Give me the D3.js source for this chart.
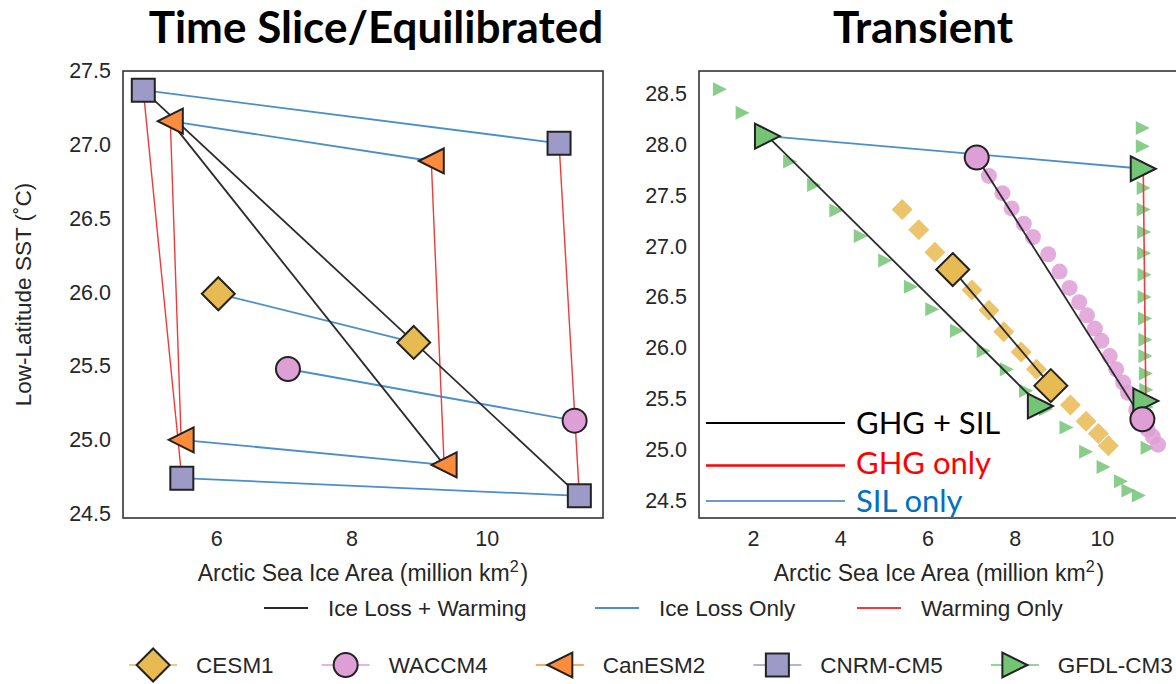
<!DOCTYPE html>
<html lang="en">
<head>
<meta charset="UTF-8" />
<title>Arctic Sea Ice Area vs Low-Latitude SST</title>
<script src="https://cdn.jsdelivr.net/npm/d3@7"></script>
<style>
  body { margin: 0; background: #fff; }
  svg { display: block; font-family: "Liberation Sans", Arial, sans-serif; }
</style>
</head>
<body>
<svg id="chart" width="1176" height="684"></svg>
<script>
// ---- data ----
const models = ["CESM1", "WACCM4", "CanESM2", "CNRM-CM5", "GFDL-CM3"];
const modelColors = ["#e7ba52", "#de9ed6", "#fd8d3c", "#9e9ac8", "#74c476"];

// time slice / equilibrated runs: sea ice area (million km2) and SST (C)
// order follows eqModels, null where the run does not exist
const eqModels = ["CESM1", "WACCM4", "CanESM2", "CNRM-CM5"];
const eqCtrlIce = [8.92, 11.30, 9.37, 11.37];
const eqCtrlSst = [25.66, 25.13, 24.83, 24.62];
const eqIceLossIce = [6.03, 7.06, 5.48, 5.49];
const eqIceLossSst = [25.99, 25.48, 25.00, 24.74];
const eqWarmIce = [null, null, 9.18, 11.07];
const eqWarmSst = [null, null, 26.89, 27.01];
const eqBothIce = [null, null, 5.32, 4.92];
const eqBothSst = [null, null, 27.16, 27.37];

// transient runs: start / end means
const trModels = ["CESM1", "WACCM4", "GFDL-CM3"];
const trStartIce = [8.83, 10.93, 8.59];
const trStartSst = [25.63, 25.30, 25.43];
const trEndIce = [6.58, 7.13, 2.33];
const trEndSst = [26.77, 27.87, 28.08];
// GFDL greenhouse-only transient run: start / end means
const gfdlGhgIce = [11.01, 10.95];
const gfdlGhgSst = [25.48, 27.76];

// transient yearly-window series
const cesmTrIce = [5.42, 5.80, 6.17, 6.58, 7.02, 7.41, 7.75, 8.15, 8.50, 8.85, 9.28, 9.64, 9.92, 10.15];
const cesmTrSst = [27.36, 27.16, 26.94, 26.77, 26.57, 26.37, 26.16, 25.96, 25.79, 25.62, 25.44, 25.28, 25.16, 25.04];
const waccmTrIce = [7.13, 7.41, 7.72, 7.93, 8.21, 8.42, 8.77, 9.03, 9.26, 9.48, 9.66, 9.84, 9.99, 10.18, 10.33, 10.49, 10.60, 10.79, 10.95, 11.05, 11.17, 11.29];
const waccmTrSst = [27.87, 27.69, 27.52, 27.37, 27.22, 27.09, 26.92, 26.75, 26.59, 26.45, 26.32, 26.19, 26.07, 25.92, 25.79, 25.66, 25.56, 25.39, 25.27, 25.20, 25.13, 25.05];
const gfdlTrIce = [1.24, 1.76, 2.30, 2.85, 3.40, 3.91, 4.47, 5.03, 5.62, 6.11, 6.68, 7.29, 7.82, 8.26, 8.72, 9.19, 9.64, 10.04, 10.44, 10.61, 10.85];
const gfdlTrSst = [28.54, 28.31, 28.07, 27.83, 27.60, 27.35, 27.10, 26.86, 26.60, 26.38, 26.17, 25.97, 25.79, 25.58, 25.40, 25.22, 24.98, 24.83, 24.69, 24.60, 24.55];
const gfdlGhgTrIce = [10.94, 10.94, 10.95, 10.96, 10.96, 10.97, 10.97, 10.98, 10.98, 10.99, 11.00, 11.00, 11.01, 11.02, 11.03, 11.03, 11.05];
const gfdlGhgTrSst = [28.16, 27.98, 27.76, 27.57, 27.36, 27.14, 26.93, 26.72, 26.50, 26.29, 26.08, 25.92, 25.75, 25.59, 25.42, 25.25, 25.02];

const leftXTicks = [6, 8, 10];
const leftYTicks = [24.5, 25.0, 25.5, 26.0, 26.5, 27.0, 27.5];
const rightXTicks = [2, 4, 6, 8, 10];
const rightYTicks = [24.5, 25.0, 25.5, 26.0, 26.5, 27.0, 27.5, 28.0, 28.5];

const lineTypes = ["Ice Loss + Warming", "Ice Loss Only", "Warming Only"];
const lineColors = ["#2b2b2b", "#4a8fcb", "#ef3b3b"];
const overlayLabels = ["GHG + SIL", "GHG only", "SIL only"];
const overlayColors = ["#000000", "#ff0000", "#0070c0"];

// ---- marker shapes (size = full extent squared) ----
const half = s => Math.sqrt(s) / 2;
const symDiamond = { draw(c, s) { const r = half(s); c.moveTo(0, -r); c.lineTo(r, 0); c.lineTo(0, r); c.lineTo(-r, 0); c.closePath(); } };
const symCircle = { draw(c, s) { const r = half(s); c.moveTo(r, 0); c.arc(0, 0, r, 0, 2 * Math.PI); } };
const symTriLeft = { draw(c, s) { const r = half(s); c.moveTo(-r, 0); c.lineTo(r, -r); c.lineTo(r, r); c.closePath(); } };
const symSquare = { draw(c, s) { const r = half(s); c.rect(-r, -r, 2 * r, 2 * r); } };
const symTriRight = { draw(c, s) { const r = half(s); c.moveTo(r, 0); c.lineTo(-r, r); c.lineTo(-r, -r); c.closePath(); } };
const modelSymbols = [symDiamond, symCircle, symTriLeft, symSquare, symTriRight];
const bigExtent = [33, 24, 25, 23, 25];
const smallExtent = [21, 16, 14, 14, 14];

const mIdx = name => models.indexOf(name);
const symPath = (i, ext) => d3.symbol().type(modelSymbols[i]).size(ext * ext)();

// ---- layout ----
const svg = d3.select("#chart");
svg.append("rect").attr("width", 1176).attr("height", 684).attr("fill", "#fff");

const xL = d3.scaleLinear().domain([4.62, 11.72]).range([123, 603]);
const yL = d3.scaleLinear().domain([24.47, 27.5]).range([518, 71]);
const xR = d3.scaleLinear().domain([0.76, 11.77]).range([699, 1179]);
const yR = d3.scaleLinear().domain([24.33, 28.72]).range([518, 71]);

const textCol = "#262626";

function drawAxes(x, y, xTicks, yTicks, withYLabel) {
  const g = svg.append("g");
  g.append("g")
    .attr("transform", `translate(0,${y.range()[0]})`)
    .call(d3.axisBottom(x).tickValues(xTicks).tickSize(0).tickPadding(13).tickFormat(d3.format("d")))
    .call(a => a.select(".domain").remove())
    .selectAll("text").attr("font-size", 21.5).attr("fill", textCol).attr("font-family", "Liberation Sans, Arial, sans-serif");
  g.append("g")
    .attr("transform", `translate(${x.range()[0]},0)`)
    .call(d3.axisLeft(y).tickValues(yTicks).tickSize(0).tickPadding(12).tickFormat(d3.format(".1f")))
    .call(a => a.select(".domain").remove())
    .selectAll("text").attr("font-size", 21.5).attr("fill", textCol).attr("font-family", "Liberation Sans, Arial, sans-serif");

  const xl = g.append("text")
    .attr("x", (x.range()[0] + x.range()[1]) / 2)
    .attr("y", 581)
    .attr("text-anchor", "middle")
    .attr("font-size", 23)
    .attr("fill", textCol);
  xl.append("tspan").text("Arctic Sea Ice Area (million km");
  xl.append("tspan").attr("dy", -9).attr("font-size", 16).text("2");
  xl.append("tspan").attr("dy", 9).attr("dx", 2).text(")");

  if (withYLabel) {
    g.append("text")
      .attr("transform", `translate(31,${(y.range()[0] + y.range()[1]) / 2}) rotate(-90)`)
      .attr("text-anchor", "middle")
      .attr("font-size", 22.5)
      .attr("fill", textCol)
      .text("Low-Latitude SST (˚C)");
  }
}

function drawFrame(x, y) {
  svg.append("rect")
    .attr("x", x.range()[0]).attr("y", y.range()[1])
    .attr("width", x.range()[1] - x.range()[0])
    .attr("height", y.range()[0] - y.range()[1])
    .attr("fill", "none").attr("stroke", "#333").attr("stroke-width", 1.6);
}

// ---- left panel: time slice / equilibrated ----
drawAxes(xL, yL, leftXTicks, leftYTicks, true);

const eqPoints = eqModels.map((name, i) => ({
  model: mIdx(name),
  ctrl: [eqCtrlIce[i], eqCtrlSst[i]],
  ice: [eqIceLossIce[i], eqIceLossSst[i]],
  warm: eqWarmIce[i] == null ? null : [eqWarmIce[i], eqWarmSst[i]],
  both: eqBothIce[i] == null ? null : [eqBothIce[i], eqBothSst[i]]
}));

const eqSegs = [];
eqPoints.forEach(p => {
  [["ctrl", "warm", 2], ["ice", "both", 2], ["ctrl", "ice", 1], ["warm", "both", 1], ["ctrl", "both", 0]]
    .forEach(([a, b, t]) => { if (p[a] && p[b]) eqSegs.push({ a: p[a], b: p[b], t }); });
});

svg.append("g").selectAll("line").data(eqSegs).join("line")
  .attr("x1", d => xL(d.a[0])).attr("y1", d => yL(d.a[1]))
  .attr("x2", d => xL(d.b[0])).attr("y2", d => yL(d.b[1]))
  .attr("stroke", d => lineColors[d.t])
  .attr("stroke-width", d => d.t === 2 ? 1.4 : 1.8);

const eqMarks = [];
eqPoints.forEach(p => ["ctrl", "ice", "warm", "both"].forEach(k => { if (p[k]) eqMarks.push({ m: p.model, v: p[k] }); }));

svg.append("g").selectAll("path").data(eqMarks).join("path")
  .attr("transform", d => `translate(${xL(d.v[0])},${yL(d.v[1])})`)
  .attr("d", d => symPath(d.m, bigExtent[d.m]))
  .attr("fill", d => modelColors[d.m])
  .attr("stroke", "#222").attr("stroke-width", 2);

drawFrame(xL, yL);

// ---- right panel: transient ----
drawAxes(xR, yR, rightXTicks, rightYTicks, false);

const trSeries = [
  { m: mIdx("GFDL-CM3"), ice: gfdlTrIce, sst: gfdlTrSst },
  { m: mIdx("GFDL-CM3"), ice: gfdlGhgTrIce, sst: gfdlGhgTrSst },
  { m: mIdx("CESM1"), ice: cesmTrIce, sst: cesmTrSst },
  { m: mIdx("WACCM4"), ice: waccmTrIce, sst: waccmTrSst }
];
const trSmall = trSeries.flatMap(s => s.ice.map((v, i) => ({ m: s.m, v: [v, s.sst[i]] })));

svg.append("g").selectAll("path").data(trSmall).join("path")
  .attr("transform", d => `translate(${xR(d.v[0])},${yR(d.v[1])})`)
  .attr("d", d => symPath(d.m, smallExtent[d.m]))
  .attr("fill", d => modelColors[d.m])
  .attr("fill-opacity", 0.85);

const gfdl = trModels.indexOf("GFDL-CM3");
const trSegs = trModels.map((name, i) => ({ a: [trStartIce[i], trStartSst[i]], b: [trEndIce[i], trEndSst[i]], t: 0 }));
trSegs.push({ a: [trEndIce[gfdl], trEndSst[gfdl]], b: [gfdlGhgIce[1], gfdlGhgSst[1]], t: 1 });
trSegs.push({ a: [gfdlGhgIce[0], gfdlGhgSst[0]], b: [gfdlGhgIce[1], gfdlGhgSst[1]], t: 2 });

svg.append("g").selectAll("line").data(trSegs).join("line")
  .attr("x1", d => xR(d.a[0])).attr("y1", d => yR(d.a[1]))
  .attr("x2", d => xR(d.b[0])).attr("y2", d => yR(d.b[1]))
  .attr("stroke", d => lineColors[d.t])
  .attr("stroke-width", d => d.t === 2 ? 1.6 : 1.8);

const trBig = [
  { m: mIdx("GFDL-CM3"), v: [gfdlGhgIce[0], gfdlGhgSst[0]] },
  { m: mIdx("GFDL-CM3"), v: [gfdlGhgIce[1], gfdlGhgSst[1]] }
];
[2, 0, 1].forEach(i => {
  trBig.push({ m: mIdx(trModels[i]), v: [trStartIce[i], trStartSst[i]] });
  trBig.push({ m: mIdx(trModels[i]), v: [trEndIce[i], trEndSst[i]] });
});

svg.append("g").selectAll("path").data(trBig).join("path")
  .attr("transform", d => `translate(${xR(d.v[0])},${yR(d.v[1])})`)
  .attr("d", d => symPath(d.m, bigExtent[d.m]))
  .attr("fill", d => modelColors[d.m])
  .attr("stroke", "#222").attr("stroke-width", 2);

drawFrame(xR, yR);

// overlay key inside the transient panel
const ov = svg.append("g").attr("font-family", "Lato, 'Open Sans', sans-serif").attr("font-size", 31);
const ovY = [423, 465.5, 501];
const ovBase = [434, 474, 512];
const ovWidth = [2, 2.5, 1.5];
const ovStroke = ["#000000", "#ff0000", "#4472c4"];
overlayLabels.forEach((lab, i) => {
  ov.append("line").attr("x1", 706).attr("x2", 845).attr("y1", ovY[i]).attr("y2", ovY[i])
    .attr("stroke", ovStroke[i]).attr("stroke-width", ovWidth[i]);
  ov.append("text").attr("x", 856).attr("y", ovBase[i]).attr("fill", overlayColors[i]).text(lab);
});

// ---- titles ----
svg.append("g").attr("font-family", "Lato, 'Open Sans', sans-serif").attr("font-weight", 700).attr("font-size", 44)
  .selectAll("text").data([["Time Slice/Equilibrated", 376], ["Transient", 923]]).join("text")
  .attr("x", d => d[1]).attr("y", 43).attr("text-anchor", "middle").attr("fill", "#000").text(d => d[0]);

// ---- legends ----
const leg1 = svg.append("g").attr("font-size", 22.5).attr("fill", textCol);
const leg1X = [264, 595, 857];
lineTypes.forEach((lab, i) => {
  leg1.append("line").attr("x1", leg1X[i]).attr("x2", leg1X[i] + 44).attr("y1", 608).attr("y2", 608)
    .attr("stroke", lineColors[i]).attr("stroke-width", 2);
  leg1.append("text").attr("x", leg1X[i] + 64).attr("y", 616).text(lab);
});

// model key: handle, then label, entries packed and centred under the figure
const leg2 = svg.append("g").attr("font-size", 22.5).attr("fill", textCol);
const items = models.map((lab, i) => {
  const g = leg2.append("g");
  g.append("line").attr("x1", -24).attr("x2", 24).attr("y1", 0).attr("y2", 0)
    .attr("stroke", modelColors[i]).attr("stroke-width", 1.5);
  g.append("path").attr("d", symPath(i, bigExtent[i]))
    .attr("fill", modelColors[i]).attr("stroke", "#222").attr("stroke-width", 2);
  const t = g.append("text").attr("x", 43).attr("y", 8).text(lab);
  return { g, w: 43 + t.node().getComputedTextLength() };
});
const gap = 72;
const total = d3.sum(items, d => d.w) + gap * (items.length - 1) + 24;
let cx = 651 - total / 2 + 24;
items.forEach(d => {
  d.g.attr("transform", `translate(${cx},665)`);
  cx += d.w + gap;
});
</script>
</body>
</html>
